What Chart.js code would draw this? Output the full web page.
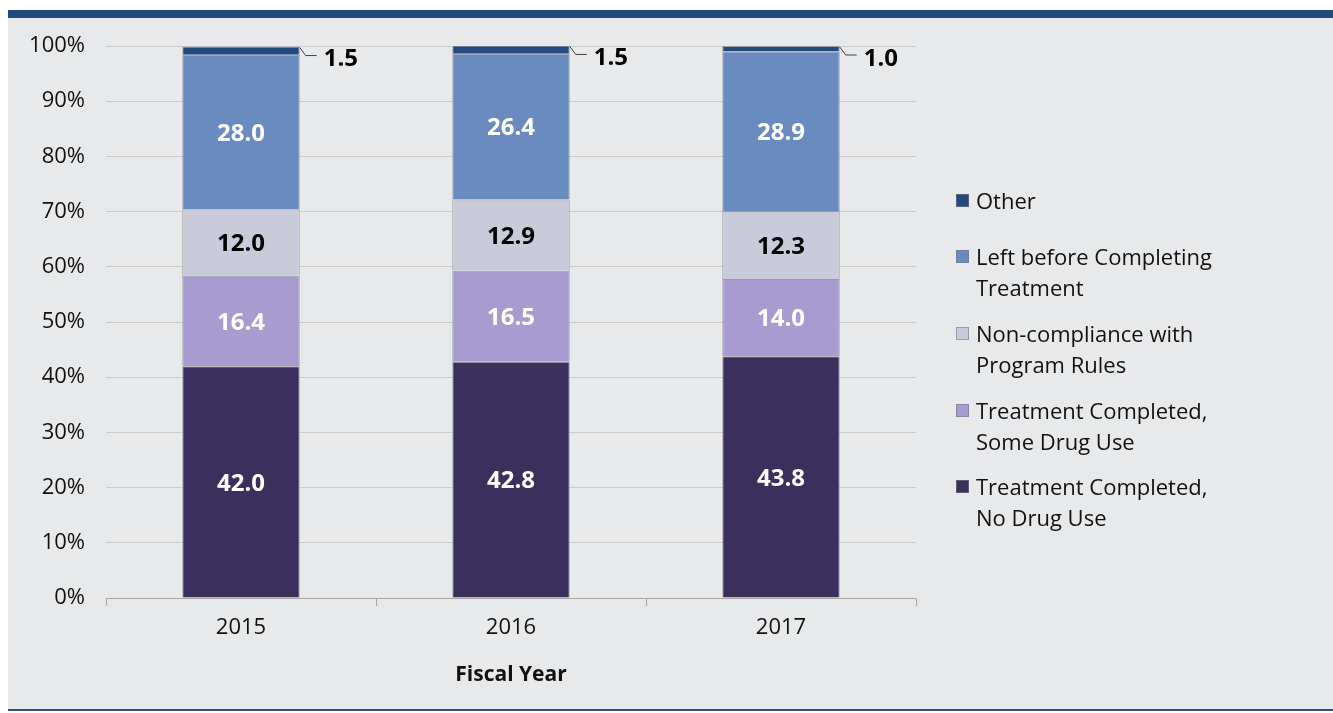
<!DOCTYPE html>
<html>
<head>
<meta charset="utf-8">
<script src="https://cdn.jsdelivr.net/npm/chart.js@4/dist/chart.umd.min.js"></script>
<style>
  html, body { margin: 0; padding: 0; background: #ffffff; }
  body { width: 1333px; height: 713px; position: relative; overflow: hidden; font-family: "Open Sans", sans-serif; }
  .panel {
    position: absolute; left: 8px; top: 10px; width: 1325px; height: 701px;
    background: #e8e9eb; border-top: 8px solid #234a7c; border-bottom: 2px solid #2a5283;
    box-sizing: border-box;
  }
  #chart { position: absolute; left: 0; top: 0; }
  .legend { position: absolute; left: 0; top: 0; }
  .legend-item { position: absolute; left: 956px; font-size: 22px; line-height: 31px; color: #111; }
  .legend-item .box {
    position: absolute; left: 0; top: 9px; width: 13px; height: 13px;
    box-sizing: border-box; border: 1px solid rgba(120,120,140,0.6);
  }
  .legend-item .txt { margin-left: 20px; white-space: nowrap; }
</style>
</head>
<body>
<div class="panel"></div>
<canvas id="chart" width="1333" height="713"></canvas>
<div class="legend" id="legend"></div>
<script>
// Data (percent of discharges)
const years = ['2015', '2016', '2017'];
const noDrugUse = [42.0, 42.8, 43.8];
const someDrugUse = [16.4, 16.5, 14.0];
const nonCompliance = [12.0, 12.9, 12.3];
const leftBefore = [28.0, 26.4, 28.9];
const other = [1.5, 1.5, 1.0];
const yTicks = [0, 10, 20, 30, 40, 50, 60, 70, 80, 90, 100];

const seriesNames = [
    'Treatment Completed, No Drug Use',
    'Treatment Completed, Some Drug Use',
    'Non-compliance with Program Rules',
    'Left before Completing Treatment',
    'Other'
];
const seriesColors = ['#3b2f5c', '#a89bd0', '#c9cbdb', '#6a8bbf', '#234a7c'];
const labelColors = ['#ffffff', '#ffffff', '#000000', '#ffffff', '#000000'];

// legend (top to bottom, reversed stacking order)
const legendLayout = [
    { idx: 4, top: 185, lines: ['Other'] },
    { idx: 3, top: 241, lines: ['Left before Completing', 'Treatment'] },
    { idx: 2, top: 318, lines: ['Non-compliance with', 'Program Rules'] },
    { idx: 1, top: 395, lines: ['Treatment Completed,', 'Some Drug Use'] },
    { idx: 0, top: 471, lines: ['Treatment Completed,', 'No Drug Use'] }
];

const legendEl = document.getElementById('legend');
legendLayout.forEach(item => {
    const div = document.createElement('div');
    div.className = 'legend-item';
    div.style.top = item.top + 'px';
    const box = document.createElement('span');
    box.className = 'box';
    box.style.background = seriesColors[item.idx];
    div.appendChild(box);
    const txt = document.createElement('div');
    txt.className = 'txt';
    txt.innerHTML = item.lines.join('<br>');
    div.appendChild(txt);
    legendEl.appendChild(div);
});

// value labels: centred in segments, "Other" placed outside with a leader line
const segmentLabels = {
    id: 'segmentLabels',
    afterDatasetsDraw(chart) {
        const ctx = chart.ctx;
        ctx.save();
        ctx.font = 'bold 24px "Open Sans"';
        ctx.textBaseline = 'middle';
        chart.data.datasets.forEach((ds, di) => {
            const meta = chart.getDatasetMeta(di);
            meta.data.forEach((bar, i) => {
                const val = ds.data[i].toFixed(1);
                if (di === 4) {
                    const right = bar.x + bar.width / 2;
                    const top = bar.y;
                    ctx.strokeStyle = '#404040';
                    ctx.lineWidth = 1;
                    ctx.beginPath();
                    ctx.moveTo(right, top + 1);
                    ctx.lineTo(right + 6, top + 9);
                    ctx.lineTo(right + 17, top + 9);
                    ctx.stroke();
                    ctx.fillStyle = labelColors[di];
                    ctx.textAlign = 'left';
                    ctx.fillText(val, right + 24, top + 13);
                } else {
                    ctx.fillStyle = labelColors[di];
                    ctx.textAlign = 'center';
                    ctx.fillText(val, bar.x, (bar.y + bar.base) / 2 + 2);
                }
            });
        });
        ctx.restore();
    }
};

const seriesData = [noDrugUse, someDrugUse, nonCompliance, leftBefore, other];

new Chart(document.getElementById('chart'), {
    type: 'bar',
    data: {
        labels: years,
        datasets: seriesData.map((d, i) => ({
            label: seriesNames[i],
            data: d,
            backgroundColor: seriesColors[i],
            borderColor: '#9a9aa2',
            borderWidth: 1,
            categoryPercentage: 1,
            barPercentage: 0.435
        }))
    },
    options: {
        responsive: false,
        animation: false,
        layout: { padding: { left: 0, right: 417, top: 46, bottom: 0 } },
        plugins: {
            legend: { display: false },
            tooltip: { enabled: false }
        },
        scales: {
            x: {
                stacked: true,
                grid: {
                    offset: true,
                    drawOnChartArea: false,
                    drawTicks: true,
                    tickLength: 8,
                    color: '#a6a6a6'
                },
                border: { color: '#a6a6a6', width: 1 },
                ticks: {
                    color: '#111',
                    font: { family: 'Open Sans', size: 22 },
                    padding: 9
                },
                title: {
                    display: true,
                    text: 'Fiscal Year',
                    color: '#111',
                    font: { family: 'Open Sans', size: 21, weight: 'bold' },
                    padding: { top: 0, bottom: 25 }
                },
                afterFit(scale) { scale.height = 115; }
            },
            y: {
                stacked: true,
                min: 0,
                max: 100,
                afterBuildTicks(scale) { scale.ticks = yTicks.map(v => ({ value: v })); },
                grid: { color: '#cbcbcb', drawTicks: false },
                border: { display: false },
                ticks: {
                    color: '#111',
                    font: { family: 'Open Sans', size: 22 },
                    padding: 21,
                    callback: v => v + '%'
                },
                afterFit(scale) { scale.width = 106; }
            }
        }
    },
    plugins: [segmentLabels]
});
</script>
</body>
</html>
